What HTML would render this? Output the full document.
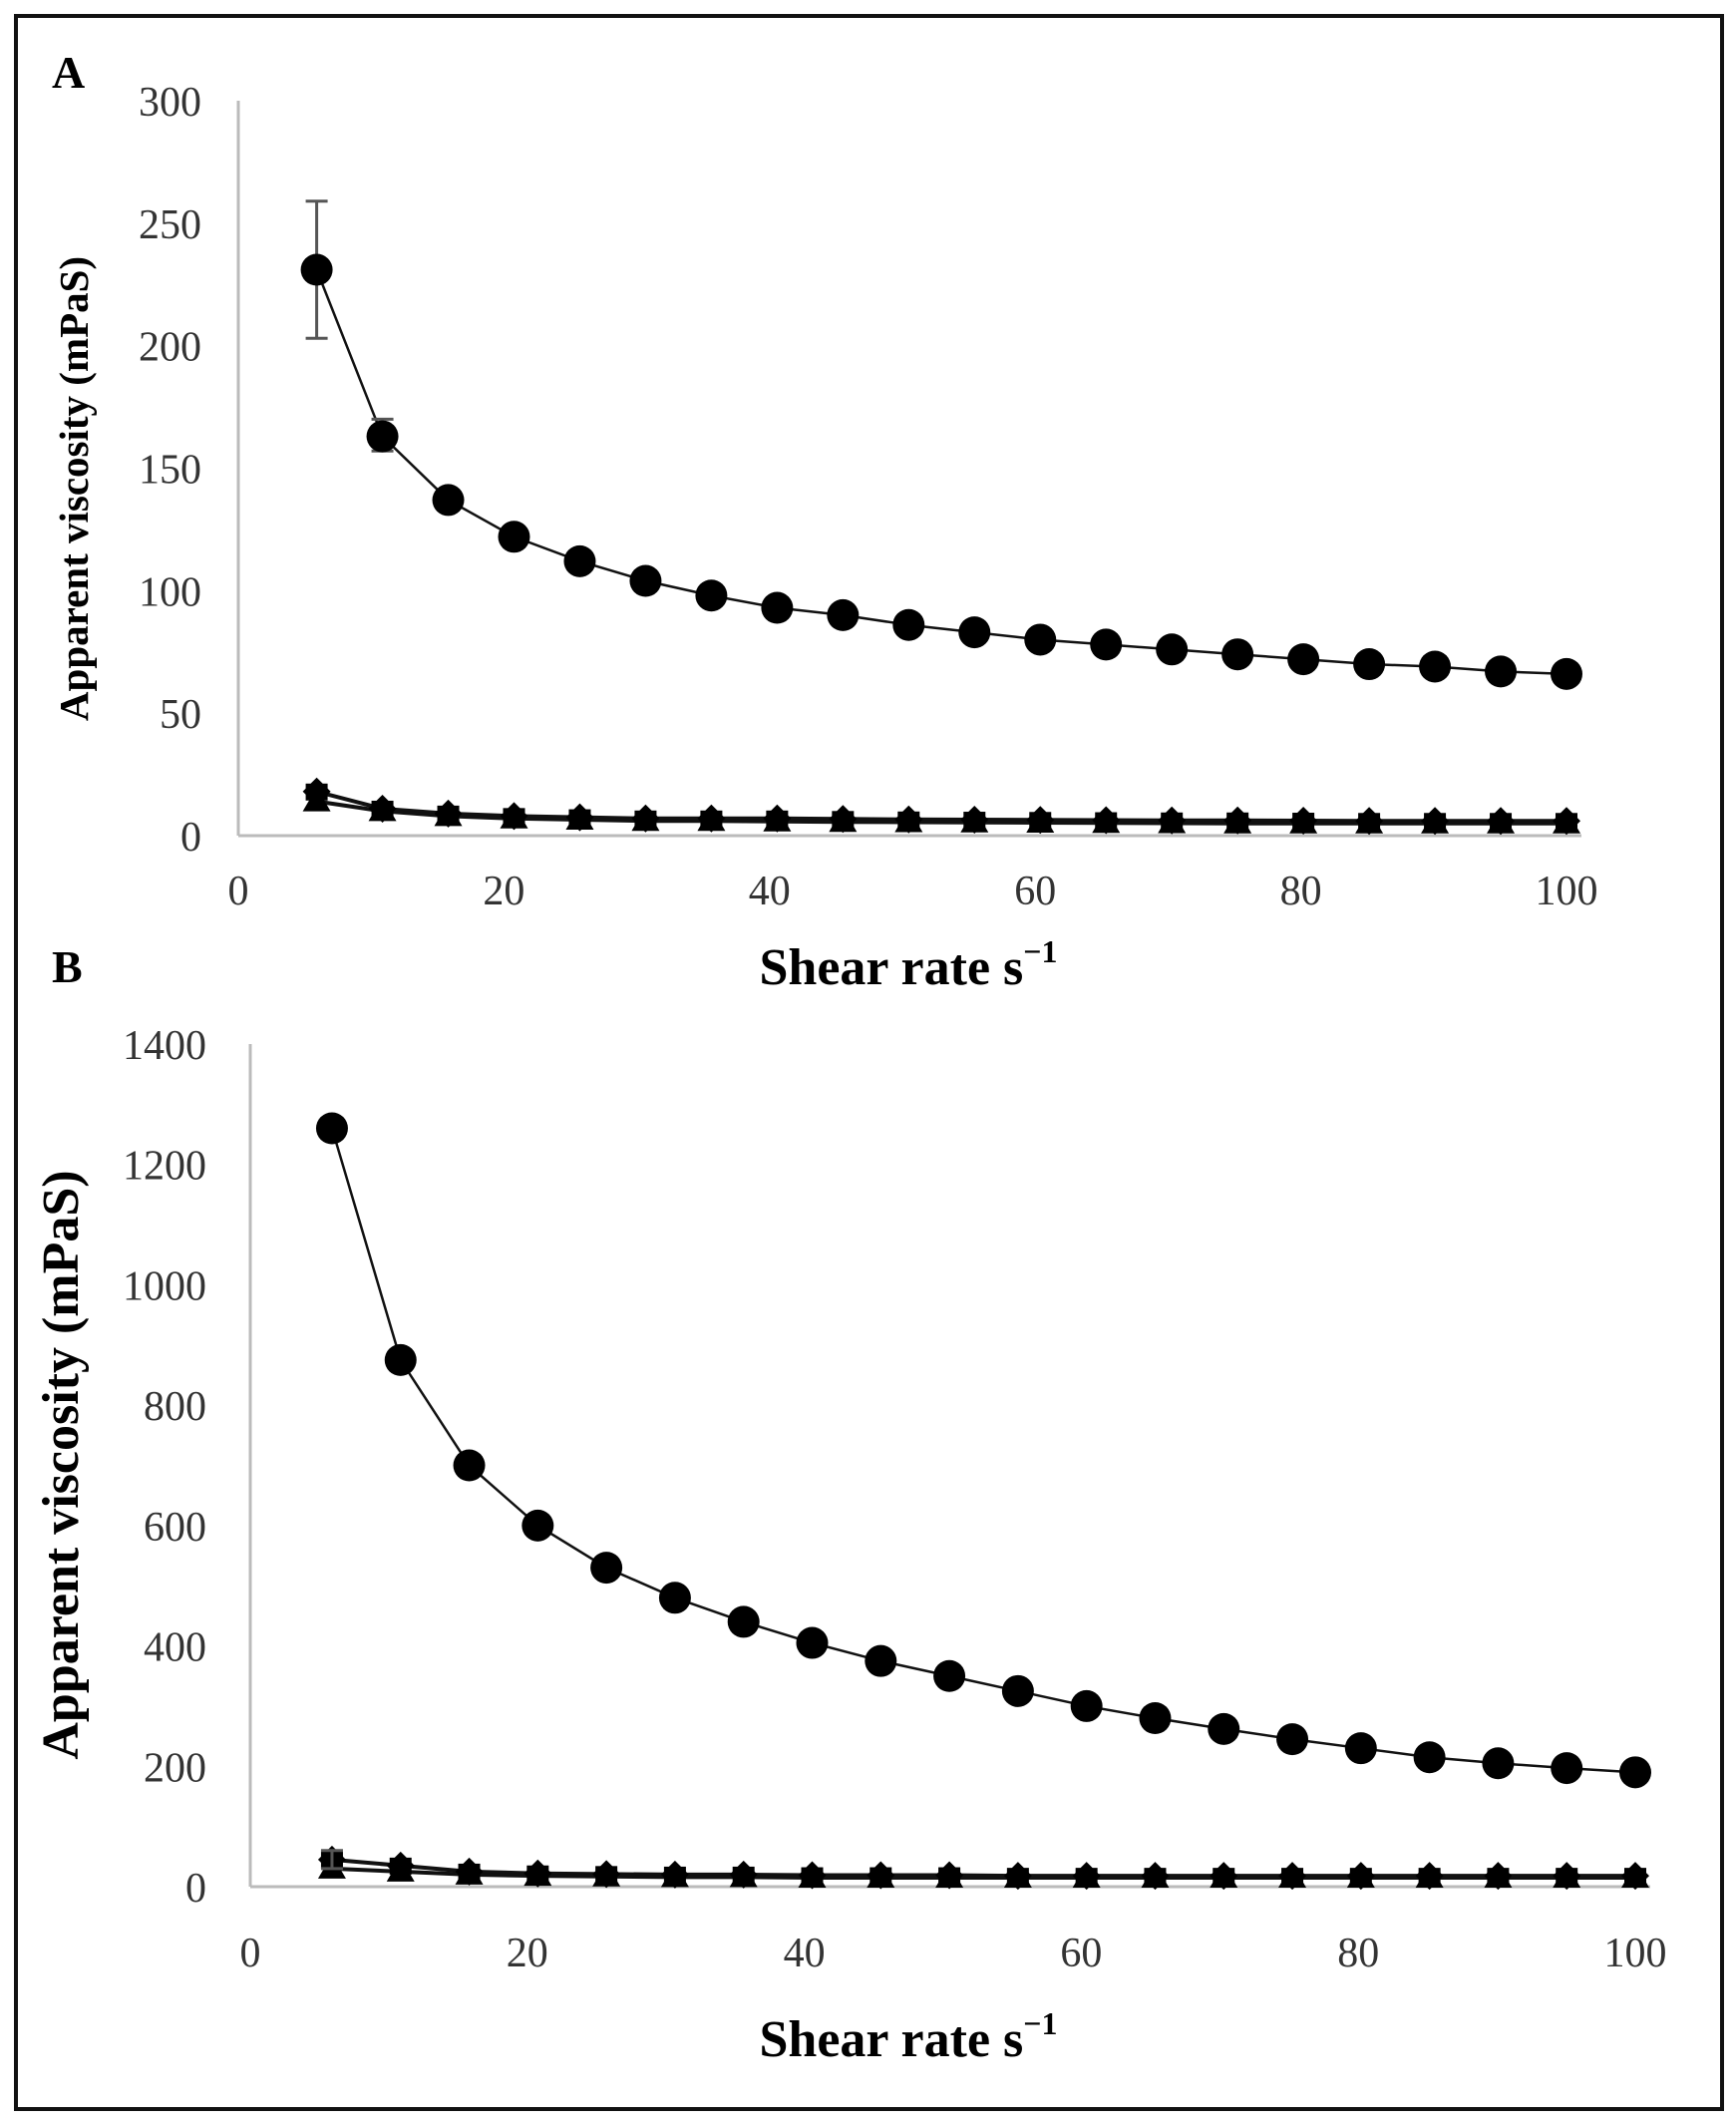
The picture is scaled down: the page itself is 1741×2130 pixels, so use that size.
<!DOCTYPE html>
<html><head><meta charset="utf-8"><style>
html,body{margin:0;padding:0;background:#fff;}
svg{display:block;}
text{font-family:"Liberation Serif",serif;}
</style></head><body>
<svg id="s" width="1741" height="2130" xmlns="http://www.w3.org/2000/svg">
<rect x="16" y="16" width="1711" height="2099" fill="none" stroke="#111" stroke-width="4"/>
<text x="52" y="88" font-size="46" font-weight="bold">A</text>
<text x="52" y="985" font-size="46" font-weight="bold">B</text>
<text x="911" y="987" font-size="52" font-weight="bold" text-anchor="middle">Shear rate s<tspan font-size="32" dy="-22">−1</tspan></text>
<text x="911" y="2062" font-size="52" font-weight="bold" text-anchor="middle">Shear rate s<tspan font-size="32" dy="-22">−1</tspan></text>
<text transform="translate(88,490) rotate(-90)" font-size="41" font-weight="bold" text-anchor="middle">Apparent viscosity (mPaS)</text>
<text transform="translate(78,1469) rotate(-90)" font-size="52" font-weight="bold" text-anchor="middle">Apparent viscosity (mPaS)</text>
<g id="g"></g>
</svg>
<script>
var g=document.getElementById('g'),h='';
function P(o){
 var X=function(v){return o.x0+(o.x1-o.x0)*v/100},Y=function(v){return o.y0+(o.y1-o.y0)*v/o.ymax};
 h+='<line x1="'+o.x0+'" y1="'+o.y1+'" x2="'+o.x0+'" y2="'+o.y0+'" stroke="#bbb" stroke-width="3"/>';
 h+='<line x1="'+o.x0+'" y1="'+o.y0+'" x2="'+(o.x1+15)+'" y2="'+o.y0+'" stroke="#bbb" stroke-width="3"/>';
 for(var t=0;t<=o.ymax;t+=o.ys)h+='<text x="'+o.lx+'" y="'+(Y(t)+15)+'" font-size="42" fill="#333" text-anchor="end">'+t+'</text>';
 for(t=0;t<=100;t+=20)h+='<text x="'+X(t)+'" y="'+o.ty+'" font-size="42" fill="#333" text-anchor="middle">'+t+'</text>';
 var xs=[];for(var i=0;i<20;i++)xs.push(5.9+i*94.1/19);
 [o.low1,o.low2].forEach(function(L){var d='';xs.forEach(function(x,i){d+=(i?'L':'M')+X(x)+','+Y(L[i])});h+='<path d="'+d+'" fill="none" stroke="#111" stroke-width="4"/>';});
 xs.forEach(function(x,i){var cx=X(x),cy=Y(o.low1[i]),cy2=Y(o.low2[i]);
  h+='<polygon points="'+cx+','+(cy-14)+' '+(cx+14)+','+cy+' '+cx+','+(cy+14)+' '+(cx-14)+','+cy+'" fill="#000"/>';
  h+='<polygon points="'+cx+','+(cy2-14)+' '+(cx+14)+','+(cy2+10)+' '+(cx-14)+','+(cy2+10)+'" fill="#000"/>';
  h+='<rect x="'+(cx-11)+'" y="'+(cy-8)+'" width="22" height="17" fill="#000"/>';});
 var d='';xs.forEach(function(x,i){d+=(i?'L':'M')+X(x)+','+Y(o.main[i])});
 h+='<path d="'+d+'" fill="none" stroke="#111" stroke-width="2.5"/>';
 (o.err||[]).forEach(function(e){var cx=X(xs[e[0]]);h+='<path d="M'+cx+','+Y(e[1])+'V'+Y(e[2])+'M'+(cx-11)+','+Y(e[1])+'h22M'+(cx-11)+','+Y(e[2])+'h22" stroke="#555" stroke-width="3" fill="none"/>';});
 xs.forEach(function(x,i){h+='<circle cx="'+X(x)+'" cy="'+Y(o.main[i])+'" r="16" fill="#000"/>'});
}
P({x0:239,x1:1571,y0:838,y1:101,ymax:300,ys:50,lx:202,ty:907,
 main:[231,163,137,122,112,104,98,93,90,86,83,80,78,76,74,72,70,69,67,66],
 low1:[18,11,9,8,7.5,7,7,7,6.8,6.6,6.5,6.4,6.3,6.2,6.2,6.1,6,6,6,6],
 low2:[14,10,8,7,6.5,6,6,5.8,5.6,5.5,5.4,5.3,5.2,5.1,5,5,5,5,5,5],
 err:[[0,259,203],[1,170,157]]});
P({x0:251,x1:1640,y0:1892,y1:1047,ymax:1400,ys:200,lx:207,ty:1972,
 main:[1260,875,700,600,530,480,440,405,375,350,325,300,280,262,245,230,215,205,197,190],
 low1:[45,35,25,22,21,20,20,19,19,19,18,18,18,18,18,18,18,18,18,18],
 low2:[30,25,20,18,17,16,16,15,15,15,15,15,15,15,15,15,15,15,15,15],
 err:[[0,60,30]]});
g.innerHTML=h;
</script>
</body></html>
